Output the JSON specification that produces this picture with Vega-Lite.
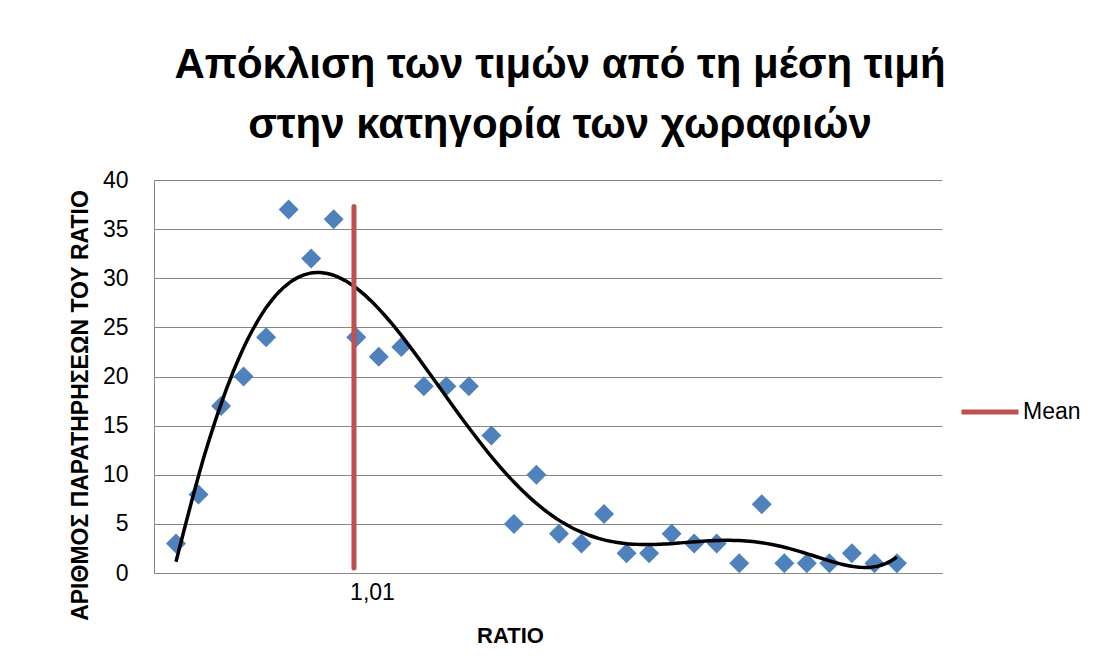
{
  "$schema": "https://vega.github.io/schema/vega-lite/v6.json",
  "autosize": {"type": "none"},
  "padding": {"left": 154, "top": 180, "right": 157, "bottom": 93},
  "width": 788,
  "height": 393,
  "background": "white",
  "config": {
    "view": {"stroke": null},
    "font": "Liberation Sans",
    "axis": {"labelFont": "Liberation Sans", "titleFont": "Liberation Sans"}
  },
  "title": {
    "text": ["Απόκλιση των τιμών από τη μέση τιμή", "στην κατηγορία των χωραφιών"],
    "font": "Liberation Sans",
    "fontSize": 42,
    "fontWeight": "bold",
    "color": "black",
    "lineHeight": 60,
    "anchor": "middle",
    "frame": "group",
    "dx": 12,
    "offset": 22
  },
  "datasets": {
    "obs": [
      {"bin": 0, "count": 3}, {"bin": 1, "count": 8}, {"bin": 2, "count": 17},
      {"bin": 3, "count": 20}, {"bin": 4, "count": 24}, {"bin": 5, "count": 37},
      {"bin": 6, "count": 32}, {"bin": 7, "count": 36}, {"bin": 8, "count": 24},
      {"bin": 9, "count": 22}, {"bin": 10, "count": 23}, {"bin": 11, "count": 19},
      {"bin": 12, "count": 19}, {"bin": 13, "count": 19}, {"bin": 14, "count": 14},
      {"bin": 15, "count": 5}, {"bin": 16, "count": 10}, {"bin": 17, "count": 4},
      {"bin": 18, "count": 3}, {"bin": 19, "count": 6}, {"bin": 20, "count": 2},
      {"bin": 21, "count": 2}, {"bin": 22, "count": 4}, {"bin": 23, "count": 3},
      {"bin": 24, "count": 3}, {"bin": 25, "count": 1}, {"bin": 26, "count": 7},
      {"bin": 27, "count": 1}, {"bin": 28, "count": 1}, {"bin": 29, "count": 1},
      {"bin": 30, "count": 2}, {"bin": 31, "count": 1}, {"bin": 32, "count": 1}
    ],
    "mean": [{"series": "Mean", "bin": 7.9, "low": 0.5, "high": 37.3}]
  },
  "layer": [
    {
      "data": {"name": "obs"},
      "mark": {"type": "point", "shape": "diamond", "filled": true, "size": 400, "color": "#4F81BD", "opacity": 1},
      "encoding": {
        "x": {
          "field": "bin", "type": "quantitative",
          "scale": {"domain": [-0.976, 34.0], "nice": false, "zero": false},
          "axis": {
            "title": "RATIO",
            "titleFontSize": 22, "titleFontWeight": "bold", "titleColor": "black",
            "titleX": 356, "titleY": 62, "titleBaseline": "middle", "titleAlign": "center",
            "values": [8.7], "labelExpr": "'1,01'",
            "labelFontSize": 23, "labelColor": "black", "labelPadding": 8,
            "ticks": false, "tickSize": 0, "grid": false,
            "domainColor": "#868686", "domainWidth": 1
          }
        },
        "y": {
          "field": "count", "type": "quantitative",
          "scale": {"domain": [0, 40], "nice": false},
          "axis": {
            "title": "ΑΡΙΘΜΟΣ ΠΑΡΑΤΗΡΗΣΕΩΝ ΤΟΥ RATIO",
            "titleFontSize": 23, "titleFontWeight": "bold", "titleColor": "black",
            "titleAngle": -90, "titleX": -74, "titleY": 225,
            "titleAlign": "center", "titleBaseline": "middle",
            "values": [0, 5, 10, 15, 20, 25, 30, 35, 40],
            "labelFontSize": 23, "labelColor": "black", "labelPadding": 26,
            "ticks": false, "tickSize": 0,
            "grid": true, "gridColor": "#868686", "gridWidth": 1,
            "domainColor": "#868686", "domainWidth": 1
          }
        }
      }
    },
    {
      "data": {"name": "obs"},
      "transform": [
        {"regression": "count", "on": "bin", "method": "poly", "order": 6, "extent": [0, 32]}
      ],
      "mark": {"type": "line", "color": "black", "strokeWidth": 3.5, "interpolate": "monotone"},
      "encoding": {
        "x": {"field": "bin", "type": "quantitative"},
        "y": {"field": "count", "type": "quantitative"}
      }
    },
    {
      "data": {"name": "mean"},
      "mark": {"type": "rule", "strokeWidth": 5, "strokeCap": "round"},
      "encoding": {
        "x": {"field": "bin", "type": "quantitative"},
        "y": {"field": "low", "type": "quantitative"},
        "y2": {"field": "high"},
        "color": {
          "field": "series", "type": "nominal",
          "scale": {"domain": ["Mean"], "range": ["#C0504D"]},
          "legend": {
            "title": null, "orient": "none", "legendX": 805, "legendY": 201,
            "symbolType": "stroke", "symbolSize": 3249, "symbolStrokeWidth": 5,
            "labelFontSize": 23, "labelColor": "black", "labelOffset": 2,
            "labelFont": "Liberation Sans", "padding": 0
          }
        }
      }
    }
  ]
}
